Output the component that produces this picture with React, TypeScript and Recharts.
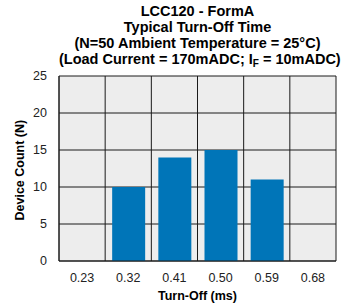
import { BarChart, Bar, XAxis, YAxis, CartesianGrid } from 'recharts'

const categories = ['0.23', '0.32', '0.41', '0.50', '0.59', '0.68']
const counts = [0, 10, 14, 15, 11, 0]
const yTicks = [0, 5, 10, 15, 20, 25]

const data = categories.map((c, i) => ({ name: c, count: counts[i] }))

const titleStyle: React.CSSProperties = {
  position: 'absolute',
  left: 59,
  width: 277,
  top: 3,
  textAlign: 'center',
  fontFamily: '"Liberation Sans", Arial, sans-serif',
  fontWeight: 'bold',
  fontSize: 14.5,
  lineHeight: '16px',
  color: '#000',
  whiteSpace: 'nowrap',
}

export default function App() {
  return (
    <div style={{ position: 'absolute', left: 0, top: 0, width: 357, height: 308, background: '#fff' }}>
      <div style={titleStyle}>
        <div>LCC120 - FormA</div>
        <div>Typical Turn-Off Time</div>
        <div>(N=50 Ambient Temperature = 25°C)</div>
        <div>
          (Load Current = 170mADC; I<sub style={{ fontSize: 10, verticalAlign: -3 }}>F</sub> = 10mADC)
        </div>
      </div>
      <BarChart
        width={357}
        height={308}
        data={data}
        margin={{ top: 76, right: 21, bottom: 0, left: 29 }}
        barSize={33}
        style={{ fontFamily: '"Liberation Sans", Arial, sans-serif' }}
      >
        <CartesianGrid
          stroke="#1a1a1a"
          fill="#ededed"
          fillOpacity={1}
          verticalCoordinatesGenerator={({ offset }: any) =>
            categories.map((_, i) => offset.left + (offset.width * i) / categories.length).concat(offset.left + offset.width)
          }
        />
        <XAxis
          dataKey="name"
          height={47}
          tickLine={false}
          axisLine={{ stroke: '#1a1a1a' }}
          tick={{ fill: '#222', fontSize: 12.5 }}
          tickMargin={6}
          label={{ value: 'Turn-Off (ms)', position: 'insideBottom', offset: 8, fill: '#000', fontWeight: 'bold', fontSize: 12.5 }}
        />
        <YAxis
          width={30}
          domain={[0, 25]}
          ticks={yTicks}
          tickLine={false}
          axisLine={{ stroke: '#1a1a1a' }}
          tick={{ fill: '#222', fontSize: 12.5 }}
          tickMargin={6}
          label={{ value: 'Device Count (N)', angle: -90, position: 'insideLeft', offset: -9, dy: 52, fill: '#000', fontWeight: 'bold', fontSize: 12.5 }}
        />
        <Bar dataKey="count" fill="#0075b8" isAnimationActive={false} />
      </BarChart>
    </div>
  )
}
